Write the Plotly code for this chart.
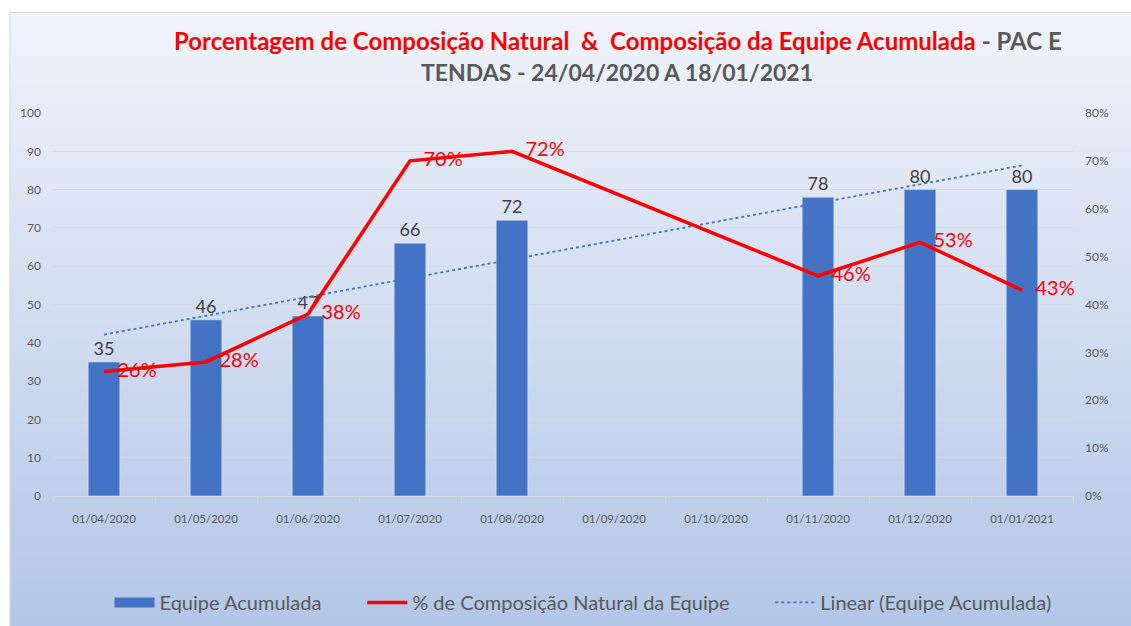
import numpy as np
import plotly.graph_objects as go

categories = ["01/04/2020", "01/05/2020", "01/06/2020", "01/07/2020", "01/08/2020",
              "01/09/2020", "01/10/2020", "01/11/2020", "01/12/2020", "01/01/2021"]
equipe = [35, 46, 47, 66, 72, None, None, 78, 80, 80]
composicao = [0.26, 0.28, 0.38, 0.70, 0.72, None, None, 0.46, 0.53, 0.43]

# Linear trendline of the bar series (Excel-style, over category positions)
idx = [i for i, v in enumerate(equipe) if v is not None]
vals = [equipe[i] for i in idx]
slope, intercept = np.polyfit(idx, vals, 1)
trend = [intercept + slope * i for i in range(len(categories))]

W, H = 1131, 634
L, R, T, B = 53, 1073, 113, 498

def px(x):
    return (x - L) / (R - L)

def py(y):
    return (B - y) / (B - T)

FONT = "Lato"
PAD = "\u00a0" * 7
fig = go.Figure()

fig.add_trace(go.Bar(
    x=categories, y=equipe, name="Equipe Acumulada", showlegend=False,
    marker=dict(color="#4472c4"), width=0.31,
    text=[str(v) if v is not None else "" for v in equipe],
    textposition="outside", cliponaxis=False,
    textfont=dict(color="#404040", size=18, family=FONT),
))
# legend entry for the bars (wide rectangle swatch)
fig.add_trace(go.Scatter(
    x=[None], y=[None], name="Equipe Acumulada" + PAD, mode="lines",
    line=dict(color="#4472c4", width=10),
))

fig.add_trace(go.Scatter(
    x=categories, y=composicao, name="% de Composição Natural da Equipe" + PAD,
    yaxis="y2", mode="lines+markers+text", connectgaps=True,
    line=dict(color="#ff0000", width=3.5),
    marker=dict(size=20, color="rgba(0,0,0,0)"),
    text=[f"{round(v*100)}%" if v is not None else "" for v in composicao],
    textposition="middle right",
    textfont=dict(color="#ff0000", size=20, family=FONT),
    cliponaxis=False,
))

fig.add_trace(go.Scatter(
    x=categories, y=trend, name="Linear (Equipe Acumulada)",
    mode="lines", line=dict(color="#4472c4", width=1.8, dash="dot"),
))

# gradient background as stacked strips
shapes = []
top_c = np.array([0xf1, 0xf4, 0xfb])
bot_c = np.array([0xb2, 0xc6, 0xe7])
y0p, y1p = 12, 640
n = 90
for k in range(n):
    ya = y0p + (y1p - y0p) * k / n
    yb = y0p + (y1p - y0p) * (k + 1) / n + 1
    t = (k + 0.5) / n
    c = (top_c * (1 - t) + bot_c * t).astype(int)
    shapes.append(dict(type="rect", xref="paper", yref="paper", layer="below",
                       x0=px(10), x1=px(W + 5), y0=py(ya), y1=py(yb),
                       fillcolor=f"rgb({c[0]},{c[1]},{c[2]})", line=dict(width=0)))
shapes.append(dict(type="rect", xref="paper", yref="paper", layer="below",
                   x0=px(10), x1=px(W + 5), y0=py(12), y1=py(H + 5),
                   fillcolor="rgba(0,0,0,0)", line=dict(color="#d0d4dc", width=1)))

annotations = [
    dict(xref="paper", yref="paper", x=px(618), y=py(40), xanchor="center", yanchor="middle",
         showarrow=False,
         text="<b><span style='color:#ff0000'>Porcentagem de Composição Natural  &amp;  Composição da Equipe Acumulada</span>"
              "<span style='color:#595959'> - PAC E</span></b>",
         font=dict(size=24, family=FONT)),
    dict(xref="paper", yref="paper", x=px(617), y=py(72), xanchor="center", yanchor="middle",
         showarrow=False, text="<b>TENDAS - 24/04/2020 A 18/01/2021</b>",
         font=dict(size=23, family=FONT, color="#595959")),
]

fig.update_layout(
    width=W, height=H,
    margin=dict(l=L, r=W - R, t=T, b=H - B, pad=0),
    paper_bgcolor="white", plot_bgcolor="rgba(0,0,0,0)",
    font=dict(family=FONT, color="#595959"),
    showlegend=True,
    legend=dict(orientation="h", x=px(583), y=py(605), xanchor="center", yanchor="middle",
                font=dict(size=20, color="#595959", family=FONT),
                bgcolor="rgba(0,0,0,0)", itemwidth=40, traceorder="normal"),
    xaxis=dict(type="category", categoryorder="array", categoryarray=categories,
               showgrid=False, showline=True, linecolor="#d9d9d9", linewidth=1,
               ticks="outside", tickson="boundaries", ticklen=5, tickcolor="#d9d9d9",
               tickfont=dict(size=11.5, color="#595959"), range=[-0.5, 9.5],
               ticklabelstandoff=12),
    yaxis=dict(range=[0, 100], dtick=10, showgrid=True, gridcolor="rgba(215,215,222,0.8)",
               gridwidth=1, zeroline=False, showline=False,
               tickfont=dict(size=12, color="#595959"), ticklabelstandoff=11),
    yaxis2=dict(range=[0, 0.8], dtick=0.1, tickformat=".0%", overlaying="y", side="right",
                showgrid=False, zeroline=False, showline=False,
                tickfont=dict(size=12, color="#595959"), ticklabelstandoff=11),
    shapes=shapes,
    annotations=annotations,
)

fig.write_html(
    "out.html",
    config={"displayModeBar": False},
    post_script="document.body.style.margin='0';document.body.style.padding='0';"
                "document.body.style.overflow='hidden';document.documentElement.style.overflow='hidden';",
)
